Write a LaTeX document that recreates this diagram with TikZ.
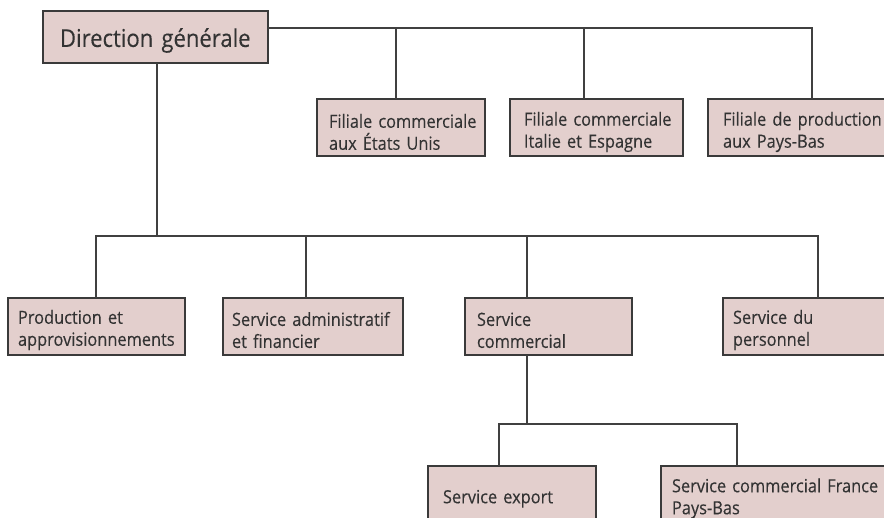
\documentclass[tikz,border=0pt]{standalone}
\usepackage{fontspec}
\setmainfont{Open Sans}[FakeStretch=0.9, FakeBold=0.2]
\usetikzlibrary{calc}
\definecolor{boxfill}{HTML}{E3CFCD}
\definecolor{boxline}{HTML}{3A3A3A}
\definecolor{wire}{HTML}{404040}
\definecolor{ink}{HTML}{333333}
% no hyphenation inside the boxes
\hyphenpenalty=10000
\exhyphenpenalty=10000
\begin{document}
\begin{tikzpicture}[x=1pt,y=-1pt,
  strut top/.initial=1.15em,
  unitbox/.style={draw=boxline, fill=boxfill, line width=1.3pt, text=ink,
    anchor=north west, align=left, inner ysep=0pt, outer sep=0pt,
    font=\fontsize{18.2}{22}\selectfont,
    % a taller first line lowers the text a little inside its box
    execute at begin node={\rule{0pt}{\pgfkeysvalueof{/tikz/strut top}}}},
  wires/.style={draw=wire, line width=1.3pt}]
  % page and clipping window
  \fill[white] (0,0) rectangle (884,518);
  \useasboundingbox (0,0) rectangle (884,518);
  \clip (0,0) rectangle (884,518);

  % head office
  \node[unitbox, font=\fontsize{24.5}{28}\selectfont, strut top=1.05em, inner xsep=17pt,
        text width=191pt, minimum height=52pt] (dg) at (43,11) {\mbox{Direction générale}};

  % subsidiaries
  \node[unitbox, strut top=1.25em, inner xsep=12pt, text width=144pt, minimum height=57pt] (f1) at (317,99)
    {\mbox{Filiale commerciale}\\\mbox{aux États Unis}};
  \node[unitbox, strut top=1.25em, inner xsep=14pt, text width=145pt, minimum height=57pt] (f2) at (510,99)
    {\mbox{Filiale commerciale}\\\mbox{Italie et Espagne}};
  \node[unitbox, strut top=1.25em, inner xsep=15pt, text width=178pt, minimum height=57pt] (f3) at (708,99)
    {\mbox{Filiale de production}\\\mbox{aux Pays-Bas}};

  % departments
  \node[unitbox, inner xsep=10pt, text width=157pt, minimum height=57pt] (s1) at (8,298)
    {\mbox{Production et}\\\mbox{approvisionnements}};
  \node[unitbox, inner xsep=9pt, text width=162pt, minimum height=57pt] (s2) at (223,298)
    {\mbox{Service administratif}\\\mbox{et financier}};
  \node[unitbox, inner xsep=12pt, text width=143pt, minimum height=57pt] (s3) at (465,298)
    {Service\\commercial};
  \node[unitbox, inner xsep=10pt, text width=180pt, minimum height=57pt] (s4) at (723,298)
    {\mbox{Service du}\\personnel};

  % sales sub-units
  \node[unitbox, inner xsep=15pt, text width=138pt, minimum height=58pt] (e1) at (428,466)
    {\mbox{Service export}};
  \node[unitbox, inner xsep=11pt, text width=238pt, minimum height=58pt] (e2) at (661,466)
    {\mbox{Service commercial France}\\\mbox{Pays-Bas}};

  % junction points
  \coordinate (topbar) at (812,28);
  \coordinate (j1) at (396,28);
  \coordinate (j2) at (584,28);
  \coordinate (trunk) at (157,236);
  \coordinate (barL) at (96,236);
  \coordinate (barR) at (818,236);
  \coordinate (b2) at (306,236);
  \coordinate (b3) at (527,236);
  \coordinate (sc) at (527,424);
  \coordinate (eL) at (499,424);
  \coordinate (eR) at (737,424);

  % head office to subsidiaries
  \draw[wires] (dg.east |- topbar) -- (topbar) -- (topbar |- f3.north);
  \draw[wires] (j1) -- (j1 |- f1.north);
  \draw[wires] (j2) -- (j2 |- f2.north);

  % head office to departments
  \draw[wires] (trunk |- dg.south) -- (trunk);
  \draw[wires] (barL |- s1.north) -- (barL) -- (barR) -- (barR |- s4.north);
  \draw[wires] (b2) -- (b2 |- s2.north);
  \draw[wires] (b3) -- (b3 |- s3.north);

  % sales department to its units
  \draw[wires] (sc |- s3.south) -- (sc);
  \draw[wires] (eL |- e1.north) -- (eL) -- (eR) -- (eR |- e2.north);
\end{tikzpicture}
\end{document}
